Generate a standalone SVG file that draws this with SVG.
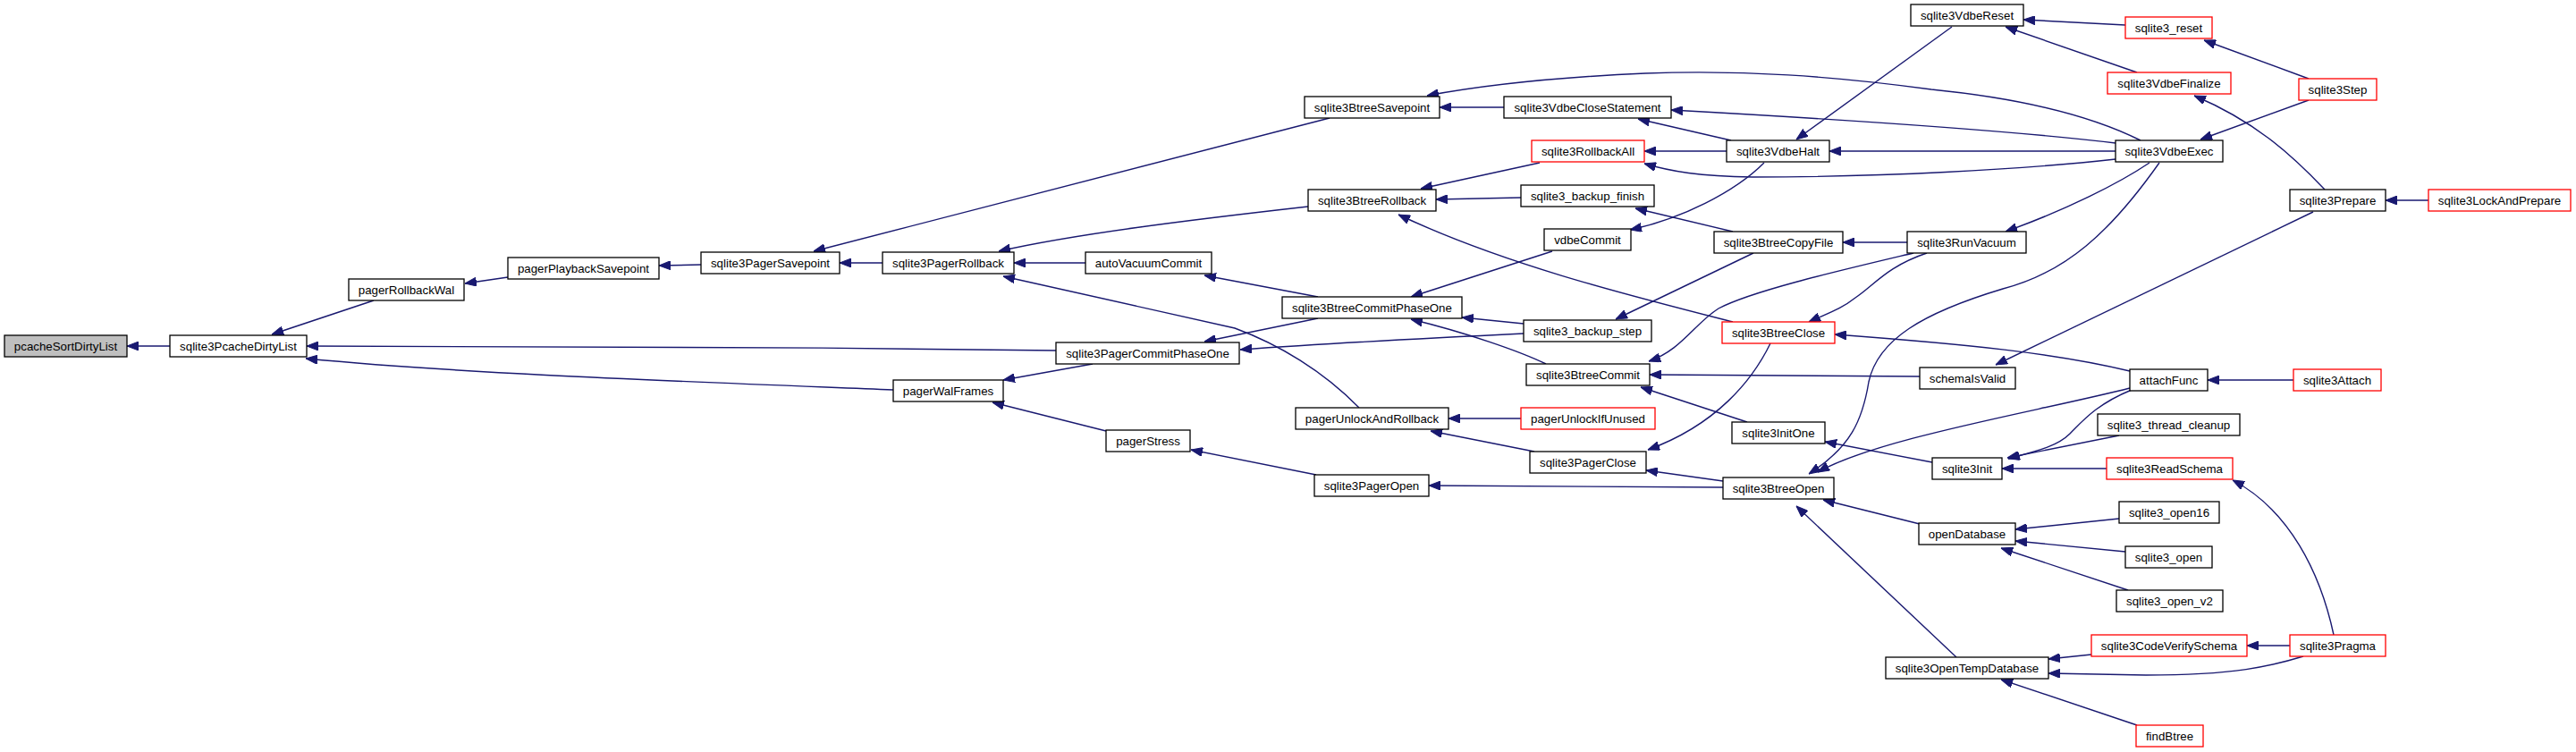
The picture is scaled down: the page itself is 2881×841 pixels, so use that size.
<svg xmlns="http://www.w3.org/2000/svg" width="2881" height="841" viewBox="0 0 2881 841">
<style>
.n rect{fill:#ffffff;stroke:#000000;stroke-width:1.3}
.r rect{stroke:#ff0000}
.root rect{fill:#bfbfbf}
.n text{font-family:"Liberation Sans",Helvetica,Arial,sans-serif;font-size:13.3px;text-anchor:middle;fill:#000000}
.e path{fill:none;stroke:#191970;stroke-width:1.4;marker-end:url(#ah)}
</style>
<defs>
<marker id="ah" viewBox="0 0 13 10" refX="13" refY="5" markerWidth="13" markerHeight="10" markerUnits="userSpaceOnUse" orient="auto">
<path d="M0,0 L13,5 L0,10 z" fill="#191970" stroke="#191970" stroke-width="1"/>
</marker>
</defs>
<rect x="0" y="0" width="2881" height="841" fill="#ffffff"/>
<g id="edges" class="e">
<path d="M190,387 L142,387"/>
<path d="M418,336 L304,374"/>
<path d="M1181,392 C900,388 600,387 343,387"/>
<path d="M999,436 C750,426 520,418 342,401"/>
<path d="M568,310 L520,317"/>
<path d="M784,296 L737,297"/>
<path d="M1487,132 L910,281"/>
<path d="M987,294 L939,294"/>
<path d="M1463,231 C1330,246 1200,262 1117,281"/>
<path d="M1214,294 L1134,294"/>
<path d="M1520,456 C1480,415 1430,385 1381,367 L1122,309"/>
<path d="M1474,332 L1347,308"/>
<path d="M1474,356 L1347,382"/>
<path d="M1704,373 C1600,378 1500,383 1387,391"/>
<path d="M1222,407 L1122,425"/>
<path d="M1237,482 L1110,450"/>
<path d="M1472,531 L1332,503"/>
<path d="M1682,120 L1610,120"/>
<path d="M2394,157 C2340,130 2260,110 2160,100 C2050,85 1950,78 1840,82 C1750,86 1660,95 1596,107"/>
<path d="M1936,157 L1832,133"/>
<path d="M2366,160 C2250,146 2050,133 1869,123"/>
<path d="M1938,360 C1820,330 1680,295 1564,240"/>
<path d="M1722,182 L1589,211"/>
<path d="M1701,221 L1606,223"/>
<path d="M1931,169 L1839,169"/>
<path d="M2366,178 C2260,190 2100,198 1960,198 C1900,197 1870,192 1839,183"/>
<path d="M2183,30 L2009,156"/>
<path d="M2366,169 L2046,169"/>
<path d="M1938,259 L1829,233"/>
<path d="M1973,182 C1940,215 1880,245 1823,257"/>
<path d="M1736,281 L1578,332"/>
<path d="M1704,362 L1635,355"/>
<path d="M1729,407 C1700,393 1640,372 1578,357"/>
<path d="M1961,283 L1807,357"/>
<path d="M2133,271 L2061,271"/>
<path d="M2140,283 C2060,302 1960,325 1922,345 C1895,362 1880,392 1844,404"/>
<path d="M2147,421 L1845,419"/>
<path d="M1954,472 L1835,433"/>
<path d="M1701,468 L1620,468"/>
<path d="M1716,505 L1600,482"/>
<path d="M1980,384 C1960,425 1920,475 1843,503"/>
<path d="M1927,538 L1841,526"/>
<path d="M1927,545 L1598,543"/>
<path d="M2155,283 C2110,298 2095,320 2075,333 C2060,345 2045,350 2023,360"/>
<path d="M2382,415 C2300,395 2200,385 2052,374"/>
<path d="M2404,182 C2370,205 2310,235 2243,259"/>
<path d="M2415,182 C2360,260 2310,305 2240,323 C2150,350 2100,380 2090,427 C2083,470 2070,500 2023,530"/>
<path d="M2382,434 C2280,460 2100,490 2033,528"/>
<path d="M2147,586 L2039,559"/>
<path d="M2188,735 L2009,566"/>
<path d="M2161,517 L2041,494"/>
<path d="M2384,436 C2345,452 2330,470 2315,485 C2300,500 2275,505 2246,513"/>
<path d="M2370,487 L2245,512"/>
<path d="M2356,524 L2239,524"/>
<path d="M2370,580 L2254,592"/>
<path d="M2377,617 L2254,605"/>
<path d="M2380,660 L2238,613"/>
<path d="M2339,732 L2291,737"/>
<path d="M2576,734 C2540,745 2500,755 2400,755 L2291,753"/>
<path d="M2390,811 L2238,760"/>
<path d="M2561,722 L2513,722"/>
<path d="M2610,710 C2595,640 2560,570 2497,537"/>
<path d="M2565,425 L2469,425"/>
<path d="M2587,237 L2232,408"/>
<path d="M2716,224 L2668,224"/>
<path d="M2600,212 C2560,170 2520,135 2454,107"/>
<path d="M2390,81 L2243,30"/>
<path d="M2377,28 L2263,22"/>
<path d="M2582,88 L2465,45"/>
<path d="M2582,112 L2461,156"/>
</g>
<g id="pcacheSortDirtyList" class="n root"><rect x="5" y="375" width="137" height="24"/><text x="73.5" y="391.7">pcacheSortDirtyList</text></g>
<g id="sqlite3PcacheDirtyList" class="n"><rect x="190" y="375" width="153" height="24"/><text x="266.5" y="391.7">sqlite3PcacheDirtyList</text></g>
<g id="pagerRollbackWal" class="n"><rect x="390" y="312" width="129" height="24"/><text x="454.5" y="328.7">pagerRollbackWal</text></g>
<g id="pagerPlaybackSavepoint" class="n"><rect x="568" y="288" width="169" height="24"/><text x="652.5" y="304.7">pagerPlaybackSavepoint</text></g>
<g id="sqlite3PagerSavepoint" class="n"><rect x="784" y="282" width="155" height="24"/><text x="861.5" y="298.7">sqlite3PagerSavepoint</text></g>
<g id="sqlite3PagerRollback" class="n"><rect x="987" y="282" width="147" height="24"/><text x="1060.5" y="298.7">sqlite3PagerRollback</text></g>
<g id="autoVacuumCommit" class="n"><rect x="1214" y="282" width="141" height="24"/><text x="1284.5" y="298.7">autoVacuumCommit</text></g>
<g id="sqlite3PagerCommitPhaseOne" class="n"><rect x="1181" y="383" width="205" height="24"/><text x="1283.5" y="399.7">sqlite3PagerCommitPhaseOne</text></g>
<g id="pagerWalFrames" class="n"><rect x="999" y="425" width="123" height="24"/><text x="1060.5" y="441.7">pagerWalFrames</text></g>
<g id="pagerStress" class="n"><rect x="1237" y="481" width="94" height="24"/><text x="1284" y="497.7">pagerStress</text></g>
<g id="sqlite3BtreeSavepoint" class="n"><rect x="1459" y="108" width="151" height="24"/><text x="1534.5" y="124.7">sqlite3BtreeSavepoint</text></g>
<g id="sqlite3VdbeCloseStatement" class="n"><rect x="1682" y="108" width="187" height="24"/><text x="1775.5" y="124.7">sqlite3VdbeCloseStatement</text></g>
<g id="sqlite3RollbackAll" class="n r"><rect x="1713" y="157" width="126" height="24"/><text x="1776" y="173.7">sqlite3RollbackAll</text></g>
<g id="sqlite3VdbeHalt" class="n"><rect x="1931" y="157" width="115" height="24"/><text x="1988.5" y="173.7">sqlite3VdbeHalt</text></g>
<g id="sqlite3BtreeRollback" class="n"><rect x="1463" y="212" width="143" height="24"/><text x="1534.5" y="228.7">sqlite3BtreeRollback</text></g>
<g id="sqlite3_backup_finish" class="n"><rect x="1701" y="207" width="149" height="24"/><text x="1775.5" y="223.7">sqlite3_backup_finish</text></g>
<g id="vdbeCommit" class="n"><rect x="1727" y="256" width="97" height="24"/><text x="1775.5" y="272.7">vdbeCommit</text></g>
<g id="sqlite3BtreeCopyFile" class="n"><rect x="1917" y="259" width="144" height="24"/><text x="1989" y="275.7">sqlite3BtreeCopyFile</text></g>
<g id="sqlite3BtreeCommitPhaseOne" class="n"><rect x="1434" y="332" width="201" height="24"/><text x="1534.5" y="348.7">sqlite3BtreeCommitPhaseOne</text></g>
<g id="sqlite3_backup_step" class="n"><rect x="1704" y="358" width="143" height="24"/><text x="1775.5" y="374.7">sqlite3_backup_step</text></g>
<g id="sqlite3BtreeClose" class="n r"><rect x="1926" y="360" width="126" height="24"/><text x="1989" y="376.7">sqlite3BtreeClose</text></g>
<g id="sqlite3BtreeCommit" class="n"><rect x="1707" y="407" width="138" height="24"/><text x="1776" y="423.7">sqlite3BtreeCommit</text></g>
<g id="pagerUnlockAndRollback" class="n"><rect x="1449" y="456" width="171" height="24"/><text x="1534.5" y="472.7">pagerUnlockAndRollback</text></g>
<g id="pagerUnlockIfUnused" class="n r"><rect x="1701" y="456" width="150" height="24"/><text x="1776" y="472.7">pagerUnlockIfUnused</text></g>
<g id="sqlite3InitOne" class="n"><rect x="1937" y="472" width="104" height="24"/><text x="1989" y="488.7">sqlite3InitOne</text></g>
<g id="sqlite3PagerClose" class="n"><rect x="1711" y="505" width="130" height="24"/><text x="1776" y="521.7">sqlite3PagerClose</text></g>
<g id="sqlite3PagerOpen" class="n"><rect x="1470" y="531" width="128" height="24"/><text x="1534" y="547.7">sqlite3PagerOpen</text></g>
<g id="sqlite3BtreeOpen" class="n"><rect x="1927" y="534" width="124" height="24"/><text x="1989" y="550.7">sqlite3BtreeOpen</text></g>
<g id="sqlite3VdbeReset" class="n"><rect x="2137" y="5" width="126" height="24"/><text x="2200" y="21.7">sqlite3VdbeReset</text></g>
<g id="sqlite3_reset" class="n r"><rect x="2377" y="19" width="97" height="24"/><text x="2425.5" y="35.7">sqlite3_reset</text></g>
<g id="sqlite3VdbeFinalize" class="n r"><rect x="2357" y="81" width="138" height="24"/><text x="2426" y="97.7">sqlite3VdbeFinalize</text></g>
<g id="sqlite3Step" class="n r"><rect x="2571" y="88" width="87" height="24"/><text x="2614.5" y="104.7">sqlite3Step</text></g>
<g id="sqlite3VdbeExec" class="n"><rect x="2366" y="157" width="120" height="24"/><text x="2426" y="173.7">sqlite3VdbeExec</text></g>
<g id="sqlite3Prepare" class="n"><rect x="2561" y="212" width="107" height="24"/><text x="2614.5" y="228.7">sqlite3Prepare</text></g>
<g id="sqlite3LockAndPrepare" class="n r"><rect x="2716" y="212" width="159" height="24"/><text x="2795.5" y="228.7">sqlite3LockAndPrepare</text></g>
<g id="sqlite3RunVacuum" class="n"><rect x="2133" y="259" width="133" height="24"/><text x="2199.5" y="275.7">sqlite3RunVacuum</text></g>
<g id="schemaIsValid" class="n"><rect x="2147" y="411" width="107" height="24"/><text x="2200.5" y="427.7">schemaIsValid</text></g>
<g id="attachFunc" class="n"><rect x="2382" y="413" width="87" height="24"/><text x="2425.5" y="429.7">attachFunc</text></g>
<g id="sqlite3Attach" class="n r"><rect x="2565" y="413" width="98" height="24"/><text x="2614" y="429.7">sqlite3Attach</text></g>
<g id="sqlite3_thread_cleanup" class="n"><rect x="2346" y="463" width="159" height="24"/><text x="2425.5" y="479.7">sqlite3_thread_cleanup</text></g>
<g id="sqlite3Init" class="n"><rect x="2161" y="512" width="78" height="24"/><text x="2200" y="528.7">sqlite3Init</text></g>
<g id="sqlite3ReadSchema" class="n r"><rect x="2356" y="512" width="141" height="24"/><text x="2426.5" y="528.7">sqlite3ReadSchema</text></g>
<g id="sqlite3_open16" class="n"><rect x="2370" y="561" width="112" height="24"/><text x="2426" y="577.7">sqlite3_open16</text></g>
<g id="openDatabase" class="n"><rect x="2146" y="585" width="108" height="24"/><text x="2200" y="601.7">openDatabase</text></g>
<g id="sqlite3_open" class="n"><rect x="2377" y="611" width="97" height="24"/><text x="2425.5" y="627.7">sqlite3_open</text></g>
<g id="sqlite3_open_v2" class="n"><rect x="2367" y="660" width="119" height="24"/><text x="2426.5" y="676.7">sqlite3_open_v2</text></g>
<g id="sqlite3CodeVerifySchema" class="n r"><rect x="2339" y="710" width="174" height="24"/><text x="2426" y="726.7">sqlite3CodeVerifySchema</text></g>
<g id="sqlite3Pragma" class="n r"><rect x="2561" y="710" width="107" height="24"/><text x="2614.5" y="726.7">sqlite3Pragma</text></g>
<g id="sqlite3OpenTempDatabase" class="n"><rect x="2109" y="735" width="182" height="24"/><text x="2200" y="751.7">sqlite3OpenTempDatabase</text></g>
<g id="findBtree" class="n r"><rect x="2389" y="811" width="75" height="24"/><text x="2426.5" y="827.7">findBtree</text></g>
</svg>
